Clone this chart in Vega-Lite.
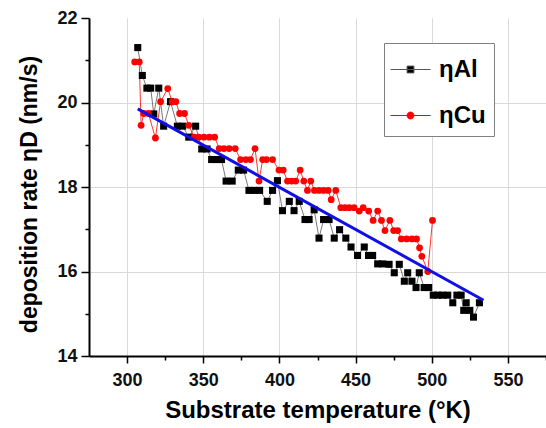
{
  "$schema": "https://vega.github.io/schema/vega-lite/v6.json",
  "width": 457,
  "height": 338,
  "autosize": {"type": "none"},
  "padding": {"left": 89, "top": 18, "right": 0, "bottom": 72},
  "background": "white",
  "config": {"view": {"stroke": null}, "font": "Liberation Sans"},
  "datasets": {
    "series": [
      {"s": "ηAl", "T": 307, "r": 21.30},
      {"s": "ηAl", "T": 310, "r": 20.64},
      {"s": "ηAl", "T": 313, "r": 20.34},
      {"s": "ηAl", "T": 315.5, "r": 20.34},
      {"s": "ηAl", "T": 317.5, "r": 19.73},
      {"s": "ηAl", "T": 320.8, "r": 20.34},
      {"s": "ηAl", "T": 324, "r": 19.44},
      {"s": "ηAl", "T": 328.5, "r": 20.02},
      {"s": "ηAl", "T": 333, "r": 19.44},
      {"s": "ηAl", "T": 336.5, "r": 19.44},
      {"s": "ηAl", "T": 340.5, "r": 19.18},
      {"s": "ηAl", "T": 345, "r": 19.44},
      {"s": "ηAl", "T": 349, "r": 18.90},
      {"s": "ηAl", "T": 352.5, "r": 18.90},
      {"s": "ηAl", "T": 355.5, "r": 18.65},
      {"s": "ηAl", "T": 358.5, "r": 18.65},
      {"s": "ηAl", "T": 362, "r": 18.65},
      {"s": "ηAl", "T": 365, "r": 18.14},
      {"s": "ηAl", "T": 369, "r": 18.14},
      {"s": "ηAl", "T": 373, "r": 18.40},
      {"s": "ηAl", "T": 376.5, "r": 18.40},
      {"s": "ηAl", "T": 380, "r": 17.92},
      {"s": "ηAl", "T": 383.5, "r": 17.92},
      {"s": "ηAl", "T": 387, "r": 17.92},
      {"s": "ηAl", "T": 392, "r": 17.66},
      {"s": "ηAl", "T": 395.5, "r": 17.92},
      {"s": "ηAl", "T": 398.7, "r": 18.15},
      {"s": "ηAl", "T": 402, "r": 17.44},
      {"s": "ηAl", "T": 406.5, "r": 17.66},
      {"s": "ηAl", "T": 409.6, "r": 17.44},
      {"s": "ηAl", "T": 413, "r": 17.66},
      {"s": "ηAl", "T": 416.8, "r": 17.23},
      {"s": "ηAl", "T": 419.5, "r": 17.23},
      {"s": "ηAl", "T": 422.8, "r": 17.46},
      {"s": "ηAl", "T": 426, "r": 16.79},
      {"s": "ηAl", "T": 429, "r": 17.23},
      {"s": "ηAl", "T": 432.6, "r": 17.23},
      {"s": "ηAl", "T": 436, "r": 16.79},
      {"s": "ηAl", "T": 439.5, "r": 16.99},
      {"s": "ηAl", "T": 443.6, "r": 16.79},
      {"s": "ηAl", "T": 447, "r": 16.58},
      {"s": "ηAl", "T": 451.3, "r": 16.38},
      {"s": "ηAl", "T": 455.7, "r": 16.58},
      {"s": "ηAl", "T": 458.5, "r": 16.38},
      {"s": "ηAl", "T": 461.2, "r": 16.38},
      {"s": "ηAl", "T": 464.5, "r": 16.18},
      {"s": "ηAl", "T": 467.8, "r": 16.18},
      {"s": "ηAl", "T": 472, "r": 16.17},
      {"s": "ηAl", "T": 475.4, "r": 15.97},
      {"s": "ηAl", "T": 478.7, "r": 16.17},
      {"s": "ηAl", "T": 482, "r": 15.77},
      {"s": "ηAl", "T": 484.2, "r": 15.97},
      {"s": "ηAl", "T": 487, "r": 15.77},
      {"s": "ηAl", "T": 489.7, "r": 15.62},
      {"s": "ηAl", "T": 491.8, "r": 15.97},
      {"s": "ηAl", "T": 495, "r": 15.62},
      {"s": "ηAl", "T": 498, "r": 15.62},
      {"s": "ηAl", "T": 501, "r": 15.44},
      {"s": "ηAl", "T": 504, "r": 15.44},
      {"s": "ηAl", "T": 507, "r": 15.44},
      {"s": "ηAl", "T": 510.5, "r": 15.44},
      {"s": "ηAl", "T": 513.8, "r": 15.26},
      {"s": "ηAl", "T": 516.5, "r": 15.44},
      {"s": "ηAl", "T": 519.3, "r": 15.44},
      {"s": "ηAl", "T": 521, "r": 15.08},
      {"s": "ηAl", "T": 522.6, "r": 15.26},
      {"s": "ηAl", "T": 525, "r": 15.08},
      {"s": "ηAl", "T": 527.4, "r": 14.92},
      {"s": "ηAl", "T": 531.3, "r": 15.26},
      {"s": "ηCu", "T": 305, "r": 20.96},
      {"s": "ηCu", "T": 308, "r": 20.96},
      {"s": "ηCu", "T": 309.2, "r": 19.46},
      {"s": "ηCu", "T": 311, "r": 19.74},
      {"s": "ηCu", "T": 314, "r": 19.74},
      {"s": "ηCu", "T": 318.6, "r": 19.16},
      {"s": "ηCu", "T": 322, "r": 20.02},
      {"s": "ηCu", "T": 326.7, "r": 20.33},
      {"s": "ηCu", "T": 329.6, "r": 20.02},
      {"s": "ηCu", "T": 332, "r": 20.02},
      {"s": "ηCu", "T": 334.5, "r": 19.74},
      {"s": "ηCu", "T": 337.7, "r": 19.74},
      {"s": "ηCu", "T": 340.5, "r": 19.46},
      {"s": "ηCu", "T": 344, "r": 19.18},
      {"s": "ηCu", "T": 347, "r": 19.18},
      {"s": "ηCu", "T": 350.5, "r": 19.18},
      {"s": "ηCu", "T": 354, "r": 19.18},
      {"s": "ηCu", "T": 357.5, "r": 19.18},
      {"s": "ηCu", "T": 360.5, "r": 18.91},
      {"s": "ηCu", "T": 363.6, "r": 18.91},
      {"s": "ηCu", "T": 367, "r": 18.91},
      {"s": "ηCu", "T": 371, "r": 18.91},
      {"s": "ηCu", "T": 374.5, "r": 18.65},
      {"s": "ηCu", "T": 378, "r": 18.65},
      {"s": "ηCu", "T": 381, "r": 18.65},
      {"s": "ηCu", "T": 384, "r": 18.91},
      {"s": "ηCu", "T": 386.6, "r": 18.14},
      {"s": "ηCu", "T": 389, "r": 18.65},
      {"s": "ηCu", "T": 391.5, "r": 18.65},
      {"s": "ηCu", "T": 395.5, "r": 18.65},
      {"s": "ηCu", "T": 399.7, "r": 18.40},
      {"s": "ηCu", "T": 402.5, "r": 18.40},
      {"s": "ηCu", "T": 405.3, "r": 18.14},
      {"s": "ηCu", "T": 408, "r": 18.14},
      {"s": "ηCu", "T": 410.7, "r": 18.14},
      {"s": "ηCu", "T": 413.6, "r": 18.40},
      {"s": "ηCu", "T": 416, "r": 18.14},
      {"s": "ηCu", "T": 418.4, "r": 17.92},
      {"s": "ηCu", "T": 420.6, "r": 18.14},
      {"s": "ηCu", "T": 423, "r": 17.92},
      {"s": "ηCu", "T": 426, "r": 17.92},
      {"s": "ηCu", "T": 429, "r": 17.92},
      {"s": "ηCu", "T": 432, "r": 17.92},
      {"s": "ηCu", "T": 434, "r": 17.70},
      {"s": "ηCu", "T": 437, "r": 17.92},
      {"s": "ηCu", "T": 440.3, "r": 17.51},
      {"s": "ηCu", "T": 443, "r": 17.51},
      {"s": "ηCu", "T": 445.8, "r": 17.51},
      {"s": "ηCu", "T": 449, "r": 17.51},
      {"s": "ηCu", "T": 452.4, "r": 17.43},
      {"s": "ηCu", "T": 455, "r": 17.51},
      {"s": "ηCu", "T": 458.6, "r": 17.43},
      {"s": "ηCu", "T": 461.5, "r": 17.21},
      {"s": "ηCu", "T": 464.5, "r": 17.43},
      {"s": "ηCu", "T": 467, "r": 17.21},
      {"s": "ηCu", "T": 469.3, "r": 16.97},
      {"s": "ηCu", "T": 472.5, "r": 17.21},
      {"s": "ηCu", "T": 475, "r": 16.97},
      {"s": "ηCu", "T": 477.6, "r": 16.97},
      {"s": "ηCu", "T": 480, "r": 16.77},
      {"s": "ηCu", "T": 483.5, "r": 16.77},
      {"s": "ηCu", "T": 487, "r": 16.77},
      {"s": "ηCu", "T": 490, "r": 16.77},
      {"s": "ηCu", "T": 492, "r": 16.56},
      {"s": "ηCu", "T": 493.5, "r": 16.36},
      {"s": "ηCu", "T": 497.4, "r": 16.00},
      {"s": "ηCu", "T": 500.5, "r": 17.21}
    ],
    "fit": [
      {"T": 307, "r": 19.85},
      {"T": 534, "r": 15.32}
    ]
  },
  "layer": [
    {
      "data": {"name": "series"},
      "mark": {"type": "line", "strokeWidth": 0.8},
      "encoding": {
        "x": {
          "field": "T", "type": "quantitative", "title": "Substrate temperature (°K)",
          "scale": {"domain": [275, 575], "nice": false, "zero": false},
          "axis": {
            "values": [300, 325, 350, 375, 400, 425, 450, 475, 500, 525, 550, 575],
            "labelExpr": "datum.value % 50 === 0 ? datum.label : ''",
            "labelOverlap": false, "labelFlush": false,
            "tickSize": {"condition": {"test": "datum.value % 50 === 0", "value": 7}, "value": 4},
            "gridOpacity": {"condition": {"test": "datum.value % 50 === 0", "value": 1}, "value": 0},
            "grid": true, "gridColor": "#d9d9d9", "gridWidth": 1,
            "domainColor": "#000000", "domainWidth": 2,
            "tickColor": "#000000", "tickWidth": 1.5,
            "labelFont": "Liberation Sans", "labelFontSize": 18, "labelFontWeight": "bold", "labelColor": "#111111", "labelPadding": 8,
            "titleFont": "Liberation Sans", "titleFontSize": 24, "titleFontWeight": "bold", "titleColor": "#000000", "titlePadding": 9
          }
        },
        "y": {
          "field": "r", "type": "quantitative", "title": "deposition rate ηD (nm/s)",
          "scale": {"domain": [14, 22], "nice": false, "zero": false},
          "axis": {
            "values": [14, 15, 16, 17, 18, 19, 20, 21, 22],
            "labelExpr": "datum.value % 2 === 0 ? datum.label : ''",
            "labelOverlap": false, "labelFlush": false,
            "tickSize": {"condition": {"test": "datum.value % 2 === 0", "value": 8}, "value": 4},
            "gridOpacity": {"condition": {"test": "datum.value % 2 === 0 && datum.value > 14 && datum.value < 22", "value": 1}, "value": 0},
            "grid": true, "gridColor": "#d9d9d9", "gridWidth": 1,
            "domainColor": "#000000", "domainWidth": 2,
            "tickColor": "#000000", "tickWidth": 1.5,
            "labelFont": "Liberation Sans", "labelFontSize": 18, "labelFontWeight": "bold", "labelColor": "#111111", "labelPadding": 4,
            "titleFont": "Liberation Sans", "titleFontSize": 23, "titleFontWeight": "bold", "titleColor": "#000000", "titlePadding": 15, "titleY": 176
          }
        },
        "color": {
          "field": "s", "type": "nominal",
          "scale": {"domain": ["ηAl", "ηCu"], "range": ["#555555", "#ff0000"]},
          "legend": {
            "orient": "none", "legendX": 295, "legendY": 25, "direction": "vertical",
            "title": null, "padding": 8, "rowPadding": 15,
            "symbolSize": 1296, "labelOffset": 10,
            "labelFont": "Liberation Sans", "labelFontSize": 24, "labelFontWeight": "bold", "labelColor": "#000000",
            "strokeColor": "#808080", "fillColor": "#ffffff",
            "symbolStrokeWidth": 1,
            "encode": {
              "symbols": {
                "update": {
                  "shape": {"signal": "datum.value === 'ηAl' ? 'M-1.11,0H1.11M-0.19,-0.19H0.19V0.19H-0.19Z' : 'M-1.11,0H1.11M0.19,0A0.19,0.19,0,1,1,-0.19,0A0.19,0.19,0,1,1,0.19,0Z'"},
                  "fill": {"signal": "datum.value === 'ηAl' ? '#000000' : '#ff0000'"},
                  "stroke": {"signal": "datum.value === 'ηAl' ? '#555555' : '#ff0000'"},
                  "strokeWidth": {"value": 1},
                  "opacity": {"value": 1}
                }
              }
            }
          }
        }
      }
    },
    {
      "data": {"name": "series"},
      "transform": [{"filter": "datum.s === 'ηAl'"}],
      "mark": {"type": "point", "shape": "square", "filled": true, "size": 50, "color": "#000000", "opacity": 1},
      "encoding": {
        "x": {"field": "T", "type": "quantitative", "title": "Substrate temperature (°K)"},
        "y": {"field": "r", "type": "quantitative", "title": "deposition rate ηD (nm/s)"}
      }
    },
    {
      "data": {"name": "series"},
      "transform": [{"filter": "datum.s === 'ηCu'"}],
      "mark": {"type": "point", "shape": "circle", "filled": true, "size": 46, "color": "#ff0000", "opacity": 1},
      "encoding": {
        "x": {"field": "T", "type": "quantitative", "title": "Substrate temperature (°K)"},
        "y": {"field": "r", "type": "quantitative", "title": "deposition rate ηD (nm/s)"}
      }
    },
    {
      "data": {"name": "fit"},
      "mark": {"type": "line", "color": "#1010e6", "strokeWidth": 3},
      "encoding": {
        "x": {"field": "T", "type": "quantitative", "title": "Substrate temperature (°K)"},
        "y": {"field": "r", "type": "quantitative", "title": "deposition rate ηD (nm/s)"}
      }
    }
  ]
}
